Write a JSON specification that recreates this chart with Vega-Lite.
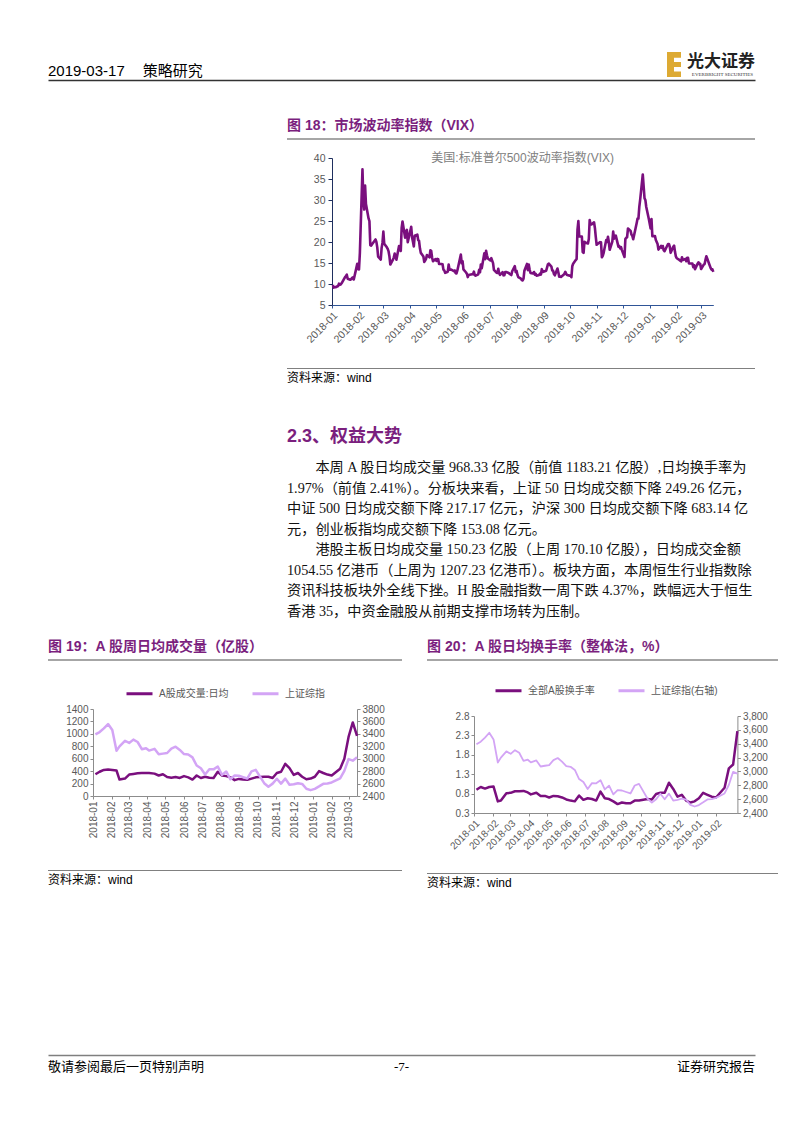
{
"$schema": "https://vega.github.io/schema/vega-lite/v6.json",
"background": "white",
"padding": {"left": 48, "top": 40, "right": 0, "bottom": 0},
"spacing": 0,
"align": "none",
"resolve": {"scale": {"color": "independent"}, "legend": {"color": "independent"}},
"config": {
  "view": {"stroke": null},
  "font": "Liberation Sans, Noto Sans CJK SC",
  "title": {"anchor": "start", "frame": "group", "font": "Liberation Sans, Noto Sans CJK SC", "fontSize": 14, "fontWeight": "bold", "color": "#7B1F7E", "offset": 5},
  "axis": {"grid": false, "labelFont": "Liberation Sans, Noto Sans CJK SC", "labelColor": "#595959", "labelFontSize": 10, "domainColor": "#8C8C8C", "tickColor": "#8C8C8C", "tickSize": 3, "labelPadding": 2, "labelOverlap": false},
  "legend": {"orient": "top", "direction": "horizontal", "symbolType": "stroke", "symbolStrokeWidth": 3, "symbolSize": 676, "labelFontSize": 10, "labelColor": "#595959", "labelFont": "Liberation Sans, Noto Sans CJK SC", "columnPadding": 17, "labelOffset": 5, "padding": 0, "layout": {"top": {"anchor": "middle"}}}
},
"vconcat": [
  {
    "width": 707, "height": 40,
    "data": {"values": [
      {"side": "L", "part": "date", "t": "2019-03-17\u3000\u2009策略研究"},
      {"side": "R", "part": "logo", "t": "光大证券"},
      {"side": "R", "part": "en", "t": "EVERBRIGHT SECURITIES"},
      {"side": "R", "part": "mark", "t": "E"}
    ]},
    "encoding": {"x": {"field": "side", "type": "nominal", "scale": {"type": "point", "domain": ["L", "R"], "padding": 0}, "axis": {"orient": "bottom", "domain": true, "domainColor": "#333333", "domainWidth": 1.5, "ticks": false, "labels": false, "title": null, "minExtent": 0, "maxExtent": 0}}},
    "layer": [
      {"transform": [{"filter": "datum.part == 'date'"}], "mark": {"type": "text", "align": "left", "baseline": "alphabetic", "dy": 16, "fontSize": 15, "font": "Liberation Sans, Noto Sans CJK SC", "color": "#000000"}, "encoding": {"text": {"field": "t"}}},
      {"transform": [{"filter": "datum.part == 'logo'"}], "mark": {"type": "text", "align": "right", "baseline": "alphabetic", "dy": 7, "fontSize": 17, "fontWeight": "bold", "font": "Noto Sans CJK SC", "color": "#222222"}, "encoding": {"text": {"field": "t"}}},
      {"transform": [{"filter": "datum.part == 'en'"}], "mark": {"type": "text", "align": "right", "baseline": "alphabetic", "dy": 16, "dx": -2, "fontSize": 5, "font": "Liberation Serif", "color": "#333333"}, "encoding": {"text": {"field": "t"}}},
      {"transform": [{"filter": "datum.part == 'mark'"}], "mark": {"type": "point", "filled": true, "color": "#DDAA33", "opacity": 1, "size": 625, "xOffset": -81, "yOffset": 4.5, "shape": "M-0.56,-1H0.56V-0.55H0V-0.2H0.56V0.2H0V0.55H0.56V1H-0.56Z"}}
    ]
  },
  {"width": 1, "height": 39, "data": {"values": []}, "mark": "point"},
  {
    "spacing": 0,
    "align": "none",
    "hconcat": [
      {"width": 239, "height": 1, "data": {"values": []}, "mark": "point"},
      {
        "spacing": 0,
        "align": "none",
        "vconcat": [
          {"width": 468, "height": 2, "data": {"values": []}, "mark": "point", "view": {"fill": "#A6A6A6"}, "title": {"text": "图 18：市场波动率指数（VIX）"}},
          {"width": 1, "height": 10.75, "data": {"values": []}, "mark": "point"},
          {
            "spacing": 0,
            "align": "none",
            "hconcat": [
              {"width": 14.7, "height": 1, "data": {"values": []}, "mark": "point"},
              {
                "width": 381.3, "height": 147,
                "title": {"text": "美国:标准普尔500波动率指数(VIX)", "anchor": "middle", "fontWeight": "normal", "fontSize": 12, "color": "#808080", "offset": -11.5},
                "data": {"values": [
{"d":"2018-01-02","v":9.77},{"d":"2018-01-03","v":9.15},{"d":"2018-01-04","v":9.22},{"d":"2018-01-05","v":9.22},{"d":"2018-01-08","v":9.52},{"d":"2018-01-09","v":10.08},{"d":"2018-01-10","v":9.82},{"d":"2018-01-11","v":9.88},{"d":"2018-01-12","v":10.16},{"d":"2018-01-16","v":11.66},{"d":"2018-01-17","v":11.91},{"d":"2018-01-18","v":12.22},{"d":"2018-01-19","v":11.27},{"d":"2018-01-22","v":11.03},{"d":"2018-01-23","v":11.1},{"d":"2018-01-24","v":11.47},{"d":"2018-01-25","v":11.58},{"d":"2018-01-26","v":11.08},{"d":"2018-01-29","v":13.84},{"d":"2018-01-30","v":14.79},{"d":"2018-01-31","v":13.54},
{"d":"2018-02-01","v":13.47},{"d":"2018-02-02","v":17.31},{"d":"2018-02-05","v":37.32},{"d":"2018-02-06","v":29.98},{"d":"2018-02-07","v":27.73},{"d":"2018-02-08","v":33.46},{"d":"2018-02-09","v":29.06},{"d":"2018-02-12","v":25.61},{"d":"2018-02-13","v":24.97},{"d":"2018-02-14","v":19.26},{"d":"2018-02-15","v":19.13},{"d":"2018-02-16","v":19.46},{"d":"2018-02-20","v":20.6},{"d":"2018-02-21","v":20.02},{"d":"2018-02-22","v":18.72},{"d":"2018-02-23","v":16.49},{"d":"2018-02-26","v":15.8},{"d":"2018-02-27","v":18.59},{"d":"2018-02-28","v":19.85},
{"d":"2018-03-01","v":22.47},{"d":"2018-03-02","v":19.59},{"d":"2018-03-05","v":18.73},{"d":"2018-03-06","v":18.36},{"d":"2018-03-07","v":17.76},{"d":"2018-03-08","v":16.54},{"d":"2018-03-09","v":14.64},{"d":"2018-03-12","v":15.78},{"d":"2018-03-13","v":16.35},{"d":"2018-03-14","v":17.23},{"d":"2018-03-15","v":16.59},{"d":"2018-03-16","v":15.8},{"d":"2018-03-19","v":19.02},{"d":"2018-03-20","v":18.2},{"d":"2018-03-21","v":17.86},{"d":"2018-03-22","v":23.34},{"d":"2018-03-23","v":24.87},{"d":"2018-03-26","v":21.03},{"d":"2018-03-27","v":22.5},{"d":"2018-03-28","v":22.87},{"d":"2018-03-29","v":19.97},
{"d":"2018-04-02","v":23.62},{"d":"2018-04-03","v":21.1},{"d":"2018-04-04","v":20.06},{"d":"2018-04-05","v":18.94},{"d":"2018-04-06","v":21.49},{"d":"2018-04-09","v":21.77},{"d":"2018-04-10","v":20.47},{"d":"2018-04-11","v":20.24},{"d":"2018-04-12","v":18.49},{"d":"2018-04-13","v":17.41},{"d":"2018-04-16","v":16.56},{"d":"2018-04-17","v":15.25},{"d":"2018-04-18","v":15.6},{"d":"2018-04-19","v":15.96},{"d":"2018-04-20","v":16.88},{"d":"2018-04-23","v":16.34},{"d":"2018-04-24","v":18.02},{"d":"2018-04-25","v":17.84},{"d":"2018-04-26","v":16.24},{"d":"2018-04-27","v":15.41},{"d":"2018-04-30","v":15.93},
{"d":"2018-05-01","v":15.49},{"d":"2018-05-02","v":15.97},{"d":"2018-05-03","v":15.9},{"d":"2018-05-04","v":14.77},{"d":"2018-05-07","v":14.75},{"d":"2018-05-08","v":14.71},{"d":"2018-05-09","v":13.42},{"d":"2018-05-10","v":13.23},{"d":"2018-05-11","v":12.65},{"d":"2018-05-14","v":12.93},{"d":"2018-05-15","v":14.63},{"d":"2018-05-16","v":13.42},{"d":"2018-05-17","v":13.43},{"d":"2018-05-18","v":13.42},{"d":"2018-05-21","v":13.08},{"d":"2018-05-22","v":13.22},{"d":"2018-05-23","v":12.58},{"d":"2018-05-24","v":12.53},{"d":"2018-05-25","v":13.22},{"d":"2018-05-29","v":17.02},{"d":"2018-05-30","v":14.94},{"d":"2018-05-31","v":15.43},
{"d":"2018-06-01","v":13.46},{"d":"2018-06-04","v":12.74},{"d":"2018-06-05","v":12.4},{"d":"2018-06-06","v":11.64},{"d":"2018-06-07","v":12.13},{"d":"2018-06-08","v":12.18},{"d":"2018-06-11","v":12.35},{"d":"2018-06-12","v":12.34},{"d":"2018-06-13","v":12.94},{"d":"2018-06-14","v":12.12},{"d":"2018-06-15","v":11.98},{"d":"2018-06-18","v":12.31},{"d":"2018-06-19","v":13.35},{"d":"2018-06-20","v":12.79},{"d":"2018-06-21","v":14.64},{"d":"2018-06-22","v":13.77},{"d":"2018-06-25","v":17.33},{"d":"2018-06-26","v":15.92},{"d":"2018-06-27","v":17.91},{"d":"2018-06-28","v":16.85},{"d":"2018-06-29","v":16.09},
{"d":"2018-07-02","v":15.6},{"d":"2018-07-03","v":16.14},{"d":"2018-07-05","v":14.97},{"d":"2018-07-06","v":13.37},{"d":"2018-07-09","v":12.69},{"d":"2018-07-10","v":12.64},{"d":"2018-07-11","v":13.63},{"d":"2018-07-12","v":12.58},{"d":"2018-07-13","v":12.18},{"d":"2018-07-16","v":12.83},{"d":"2018-07-17","v":12.06},{"d":"2018-07-18","v":12.1},{"d":"2018-07-19","v":12.87},{"d":"2018-07-20","v":12.86},{"d":"2018-07-23","v":12.62},{"d":"2018-07-24","v":12.41},{"d":"2018-07-25","v":12.29},{"d":"2018-07-26","v":12.14},{"d":"2018-07-27","v":13.03},{"d":"2018-07-30","v":14.26},{"d":"2018-07-31","v":12.83},
{"d":"2018-08-01","v":13.15},{"d":"2018-08-02","v":12.19},{"d":"2018-08-03","v":11.64},{"d":"2018-08-06","v":11.27},{"d":"2018-08-07","v":10.93},{"d":"2018-08-08","v":10.85},{"d":"2018-08-09","v":11.27},{"d":"2018-08-10","v":13.16},{"d":"2018-08-13","v":14.78},{"d":"2018-08-14","v":13.31},{"d":"2018-08-15","v":14.64},{"d":"2018-08-16","v":13.45},{"d":"2018-08-17","v":12.64},{"d":"2018-08-20","v":12.49},{"d":"2018-08-21","v":12.86},{"d":"2018-08-22","v":12.25},{"d":"2018-08-23","v":12.41},{"d":"2018-08-24","v":11.99},{"d":"2018-08-27","v":12.16},{"d":"2018-08-28","v":12.5},{"d":"2018-08-29","v":12.25},{"d":"2018-08-30","v":13.53},{"d":"2018-08-31","v":12.86},
{"d":"2018-09-04","v":13.16},{"d":"2018-09-05","v":13.91},{"d":"2018-09-06","v":14.65},{"d":"2018-09-07","v":14.88},{"d":"2018-09-10","v":14.16},{"d":"2018-09-11","v":13.22},{"d":"2018-09-12","v":13.14},{"d":"2018-09-13","v":12.37},{"d":"2018-09-14","v":12.07},{"d":"2018-09-17","v":13.68},{"d":"2018-09-18","v":12.79},{"d":"2018-09-19","v":11.75},{"d":"2018-09-20","v":11.8},{"d":"2018-09-21","v":11.68},{"d":"2018-09-24","v":12.2},{"d":"2018-09-25","v":12.42},{"d":"2018-09-26","v":12.89},{"d":"2018-09-27","v":12.41},{"d":"2018-09-28","v":12.12},
{"d":"2018-10-01","v":12.0},{"d":"2018-10-02","v":12.05},{"d":"2018-10-03","v":11.61},{"d":"2018-10-04","v":14.22},{"d":"2018-10-05","v":14.82},{"d":"2018-10-08","v":15.69},{"d":"2018-10-09","v":15.95},{"d":"2018-10-10","v":22.96},{"d":"2018-10-11","v":24.98},{"d":"2018-10-12","v":21.31},{"d":"2018-10-15","v":21.3},{"d":"2018-10-16","v":17.62},{"d":"2018-10-17","v":17.4},{"d":"2018-10-18","v":20.06},{"d":"2018-10-19","v":19.89},{"d":"2018-10-22","v":19.64},{"d":"2018-10-23","v":20.71},{"d":"2018-10-24","v":25.23},{"d":"2018-10-25","v":24.22},{"d":"2018-10-26","v":24.16},{"d":"2018-10-29","v":24.7},{"d":"2018-10-30","v":23.35},{"d":"2018-10-31","v":21.23},
{"d":"2018-11-01","v":19.34},{"d":"2018-11-02","v":19.51},{"d":"2018-11-05","v":19.96},{"d":"2018-11-06","v":19.91},{"d":"2018-11-07","v":16.36},{"d":"2018-11-08","v":16.72},{"d":"2018-11-09","v":17.36},{"d":"2018-11-12","v":20.45},{"d":"2018-11-13","v":20.02},{"d":"2018-11-14","v":21.25},{"d":"2018-11-15","v":19.98},{"d":"2018-11-16","v":18.14},{"d":"2018-11-19","v":20.1},{"d":"2018-11-20","v":22.48},{"d":"2018-11-21","v":20.8},{"d":"2018-11-23","v":21.52},{"d":"2018-11-26","v":18.9},{"d":"2018-11-27","v":19.02},{"d":"2018-11-28","v":18.49},{"d":"2018-11-29","v":18.79},{"d":"2018-11-30","v":18.07},
{"d":"2018-12-03","v":16.44},{"d":"2018-12-04","v":20.74},{"d":"2018-12-06","v":21.19},{"d":"2018-12-07","v":23.23},{"d":"2018-12-10","v":22.64},{"d":"2018-12-11","v":21.76},{"d":"2018-12-12","v":21.46},{"d":"2018-12-13","v":20.65},{"d":"2018-12-14","v":21.63},{"d":"2018-12-17","v":24.52},{"d":"2018-12-18","v":25.58},{"d":"2018-12-19","v":25.58},{"d":"2018-12-20","v":28.38},{"d":"2018-12-21","v":30.11},{"d":"2018-12-24","v":36.07},{"d":"2018-12-26","v":30.41},{"d":"2018-12-27","v":29.96},{"d":"2018-12-28","v":28.34},{"d":"2018-12-31","v":25.42},
{"d":"2019-01-02","v":23.22},{"d":"2019-01-03","v":25.45},{"d":"2019-01-04","v":21.38},{"d":"2019-01-07","v":21.4},{"d":"2019-01-08","v":20.47},{"d":"2019-01-09","v":19.98},{"d":"2019-01-10","v":19.5},{"d":"2019-01-11","v":18.19},{"d":"2019-01-14","v":19.07},{"d":"2019-01-15","v":18.6},{"d":"2019-01-16","v":19.04},{"d":"2019-01-17","v":18.06},{"d":"2019-01-18","v":17.8},{"d":"2019-01-22","v":19.52},{"d":"2019-01-23","v":19.52},{"d":"2019-01-24","v":18.89},{"d":"2019-01-25","v":17.42},{"d":"2019-01-28","v":18.87},{"d":"2019-01-29","v":19.13},{"d":"2019-01-30","v":17.66},{"d":"2019-01-31","v":16.57},
{"d":"2019-02-01","v":16.14},{"d":"2019-02-04","v":15.73},{"d":"2019-02-05","v":15.57},{"d":"2019-02-06","v":15.38},{"d":"2019-02-07","v":16.37},{"d":"2019-02-08","v":15.72},{"d":"2019-02-11","v":15.97},{"d":"2019-02-12","v":15.43},{"d":"2019-02-13","v":16.22},{"d":"2019-02-14","v":16.22},{"d":"2019-02-15","v":14.91},{"d":"2019-02-19","v":14.88},{"d":"2019-02-20","v":14.02},{"d":"2019-02-21","v":14.46},{"d":"2019-02-22","v":13.51},{"d":"2019-02-25","v":14.85},{"d":"2019-02-26","v":15.17},{"d":"2019-02-27","v":14.7},{"d":"2019-02-28","v":14.78},
{"d":"2019-03-01","v":13.57},{"d":"2019-03-04","v":14.63},{"d":"2019-03-05","v":14.74},{"d":"2019-03-06","v":15.74},{"d":"2019-03-07","v":16.59},{"d":"2019-03-08","v":16.05},{"d":"2019-03-11","v":14.33},{"d":"2019-03-12","v":13.77},{"d":"2019-03-13","v":13.41},{"d":"2019-03-14","v":13.5},{"d":"2019-03-15","v":12.88}
                ]},
                "mark": {"type": "line", "color": "#7A0F7E", "strokeWidth": 2.6, "strokeJoin": "round"},
                "encoding": {
                  "x": {"field": "d", "type": "temporal", "title": null,
                    "scale": {"domain": [{"year": 2018, "month": 1, "date": 1}, {"year": 2019, "month": 3, "date": 15}]},
                    "axis": {"values": [{"year":2018,"month":1,"date":1},{"year":2018,"month":2,"date":1},{"year":2018,"month":3,"date":1},{"year":2018,"month":4,"date":1},{"year":2018,"month":5,"date":1},{"year":2018,"month":6,"date":1},{"year":2018,"month":7,"date":1},{"year":2018,"month":8,"date":1},{"year":2018,"month":9,"date":1},{"year":2018,"month":10,"date":1},{"year":2018,"month":11,"date":1},{"year":2018,"month":12,"date":1},{"year":2019,"month":1,"date":1},{"year":2019,"month":2,"date":1},{"year":2019,"month":3,"date":1}],
                      "format": "%Y-%m", "labelAngle": -45, "labelFontSize": 10.5, "domainColor": "#2F5597", "tickColor": "#2F5597", "tickSize": 3}},
                  "y": {"field": "v", "type": "quantitative", "title": null,
                    "scale": {"domain": [5, 40], "nice": false, "zero": false},
                    "axis": {"values": [5, 10, 15, 20, 25, 30, 35, 40], "labelFontSize": 10.5, "domainColor": "#1F2F5F", "tickColor": "#1F2F5F", "tickSize": 4, "labelPadding": 3, "minExtent": 30, "maxExtent": 30}}
                }
              }
            ]
          },
          {"width": 1, "height": 23, "data": {"values": []}, "mark": "point"},
          {"width": 468, "height": 1, "data": {"values": []}, "mark": "point", "view": {"fill": "#808080"}, "title": {"text": "资料来源：wind", "orient": "bottom", "fontWeight": "normal", "color": "#000000", "fontSize": 12, "offset": 3.5}},
          {"width": 1, "height": 44, "data": {"values": []}, "mark": "point"},
          {"width": 468, "height": 1, "data": {"values": []}, "mark": "point",
           "title": {"text": "2.3、权益大势", "fontSize": 18, "offset": 0,
             "subtitle": [
               "\u200B\u3000\u3000本周 A 股日均成交量 968.33 亿股（前值 1183.21 亿股）,日均换手率为",
               "1.97%（前值 2.41%）。分板块来看，上证 50 日均成交额下降 249.26 亿元，",
               "中证 500 日均成交额下降 217.17 亿元，沪深 300 日均成交额下降 683.14 亿",
               "元，创业板指均成交额下降 153.08 亿元。",
               "\u200B\u3000\u3000港股主板日均成交量 150.23 亿股（上周 170.10 亿股），日均成交金额",
               "1054.55 亿港币（上周为 1207.23 亿港币）。板块方面，本周恒生行业指数除",
               "资讯科技板块外全线下挫。H 股金融指数一周下跌 4.37%，跌幅远大于恒生",
               "香港 35，中资金融股从前期支撑市场转为压制。"
             ],
             "subtitleFont": "Liberation Serif, Noto Sans CJK SC", "subtitleFontSize": 14.2, "subtitleColor": "#111111", "subtitleLineHeight": 20.5, "subtitlePadding": 15}}
        ]
      }
    ]
  },
  {"width": 1, "height": 20, "data": {"values": []}, "mark": "point"},
  {
    "spacing": 25,
    "align": "none",
    "resolve": {"scale": {"color": "independent"}, "legend": {"color": "independent"}},
    "hconcat": [
      {
        "spacing": 0,
        "align": "none",
        "resolve": {"scale": {"color": "independent"}, "legend": {"color": "independent"}},
        "vconcat": [
          {"width": 354, "height": 2, "data": {"values": []}, "mark": "point", "view": {"fill": "#A6A6A6"}, "title": {"text": "图 19：A 股周日均成交量（亿股）"}},
          {"width": 1, "height": 18, "data": {"values": []}, "mark": "point"},
          {
            "spacing": 0,
            "align": "none",
            "resolve": {"scale": {"color": "independent"}, "legend": {"color": "independent"}},
            "hconcat": [
              {"width": 10, "height": 1, "data": {"values": []}, "mark": "point"},
              {
                "width": 264, "height": 87,
                "data": {"values": [
{"d":"2018-01-05","vol":350,"sh":3391},{"d":"2018-01-12","vol":390,"sh":3429},{"d":"2018-01-19","vol":420,"sh":3488},{"d":"2018-01-26","vol":425,"sh":3558},{"d":"2018-02-02","vol":420,"sh":3462},{"d":"2018-02-09","vol":410,"sh":3129},{"d":"2018-02-14","vol":265,"sh":3199},{"d":"2018-02-23","vol":280,"sh":3289},{"d":"2018-03-02","vol":345,"sh":3254},{"d":"2018-03-09","vol":355,"sh":3307},{"d":"2018-03-16","vol":365,"sh":3269},{"d":"2018-03-23","vol":370,"sh":3153},{"d":"2018-03-30","vol":370,"sh":3169},{"d":"2018-04-04","vol":370,"sh":3131},{"d":"2018-04-13","vol":360,"sh":3159},{"d":"2018-04-20","vol":330,"sh":3071},{"d":"2018-04-27","vol":350,"sh":3082},{"d":"2018-05-04","vol":305,"sh":3092},{"d":"2018-05-11","vol":295,"sh":3163},{"d":"2018-05-18","vol":305,"sh":3193},{"d":"2018-05-25","vol":290,"sh":3141},{"d":"2018-06-01","vol":320,"sh":3075},{"d":"2018-06-08","vol":300,"sh":3067},{"d":"2018-06-15","vol":265,"sh":3022},{"d":"2018-06-22","vol":330,"sh":2890},{"d":"2018-06-29","vol":290,"sh":2847},{"d":"2018-07-06","vol":310,"sh":2747},{"d":"2018-07-13","vol":295,"sh":2831},{"d":"2018-07-20","vol":290,"sh":2829},{"d":"2018-07-27","vol":390,"sh":2874},{"d":"2018-08-03","vol":330,"sh":2740},{"d":"2018-08-10","vol":320,"sh":2795},{"d":"2018-08-17","vol":300,"sh":2669},{"d":"2018-08-24","vol":255,"sh":2730},{"d":"2018-08-31","vol":275,"sh":2725},{"d":"2018-09-07","vol":265,"sh":2703},{"d":"2018-09-14","vol":260,"sh":2682},{"d":"2018-09-21","vol":280,"sh":2797},{"d":"2018-09-28","vol":300,"sh":2821},{"d":"2018-10-12","vol":310,"sh":2606},{"d":"2018-10-19","vol":310,"sh":2550},{"d":"2018-10-26","vol":290,"sh":2599},{"d":"2018-11-02","vol":370,"sh":2677},{"d":"2018-11-09","vol":390,"sh":2599},{"d":"2018-11-16","vol":518,"sh":2680},{"d":"2018-11-23","vol":450,"sh":2580},{"d":"2018-11-30","vol":340,"sh":2588},{"d":"2018-12-07","vol":370,"sh":2606},{"d":"2018-12-14","vol":310,"sh":2594},{"d":"2018-12-21","vol":270,"sh":2517},{"d":"2018-12-28","vol":280,"sh":2494},{"d":"2019-01-04","vol":310,"sh":2515},{"d":"2019-01-11","vol":400,"sh":2554},{"d":"2019-01-18","vol":370,"sh":2596},{"d":"2019-01-25","vol":345,"sh":2601},{"d":"2019-02-01","vol":330,"sh":2618},{"d":"2019-02-15","vol":440,"sh":2682},{"d":"2019-02-22","vol":600,"sh":2804},{"d":"2019-03-01","vol":950,"sh":2994},{"d":"2019-03-08","vol":1183.21,"sh":2969},{"d":"2019-03-15","vol":968.33,"sh":3022}
                ]},
                "encoding": {"x": {"field": "d", "type": "temporal", "title": null,
                  "scale": {"domain": [{"year": 2018, "month": 1, "date": 1}, {"year": 2019, "month": 3, "date": 15}]},
                  "axis": {"values": [{"year":2018,"month":1,"date":1},{"year":2018,"month":2,"date":1},{"year":2018,"month":3,"date":1},{"year":2018,"month":4,"date":1},{"year":2018,"month":5,"date":1},{"year":2018,"month":6,"date":1},{"year":2018,"month":7,"date":1},{"year":2018,"month":8,"date":1},{"year":2018,"month":9,"date":1},{"year":2018,"month":10,"date":1},{"year":2018,"month":11,"date":1},{"year":2018,"month":12,"date":1},{"year":2019,"month":1,"date":1},{"year":2019,"month":2,"date":1},{"year":2019,"month":3,"date":1}],
                    "format": "%Y-%m", "labelAngle": 270}}},
                "layer": [
                  {"mark": {"type": "line", "strokeWidth": 2.5, "strokeJoin": "round"},
                   "encoding": {
                     "y": {"field": "vol", "type": "quantitative", "title": null, "scale": {"domain": [0, 1400], "nice": false}, "axis": {"orient": "left", "values": [0, 200, 400, 600, 800, 1000, 1200, 1400], "format": "d", "minExtent": 35, "maxExtent": 35}},
                     "color": {"datum": "A股成交量:日均", "type": "nominal", "scale": {"domain": ["A股成交量:日均", "上证综指"], "range": ["#7A0F7E", "#D3A4F5"]}, "legend": {"title": null, "offset": 9}}}},
                  {"mark": {"type": "line", "strokeWidth": 2.5, "strokeJoin": "round"},
                   "encoding": {
                     "y": {"field": "sh", "type": "quantitative", "title": null, "scale": {"domain": [2400, 3800], "nice": false, "zero": false}, "axis": {"orient": "right", "values": [2400, 2600, 2800, 3000, 3200, 3400, 3600, 3800], "format": "d", "minExtent": 35, "maxExtent": 35}},
                     "color": {"datum": "上证综指", "type": "nominal"}}}
                ],
                "resolve": {"scale": {"y": "independent"}}
              }
            ]
          },
          {"width": 1, "height": 32, "data": {"values": []}, "mark": "point"},
          {"width": 354, "height": 1, "data": {"values": []}, "mark": "point", "view": {"fill": "#808080"}, "title": {"text": "资料来源：wind", "orient": "bottom", "fontWeight": "normal", "color": "#000000", "fontSize": 12, "offset": 3.5}}
        ]
      },
      {
        "spacing": 0,
        "align": "none",
        "resolve": {"scale": {"color": "independent"}, "legend": {"color": "independent"}},
        "vconcat": [
          {"width": 351, "height": 2, "data": {"values": []}, "mark": "point", "view": {"fill": "#A6A6A6"}, "title": {"text": "图 20：A 股日均换手率（整体法，%）"}},
          {"width": 1, "height": 15, "data": {"values": []}, "mark": "point"},
          {
            "spacing": 0,
            "align": "none",
            "resolve": {"scale": {"color": "independent"}, "legend": {"color": "independent"}},
            "hconcat": [
              {"width": 6.3, "height": 1, "data": {"values": []}, "mark": "point"},
              {
                "width": 263.4, "height": 97,
                "data": {"values": [
{"d":"2018-01-05","tr":0.90,"sh":3391},{"d":"2018-01-12","tr":0.97,"sh":3429},{"d":"2018-01-19","tr":0.93,"sh":3488},{"d":"2018-01-26","tr":0.97,"sh":3558},{"d":"2018-02-02","tr":0.98,"sh":3462},{"d":"2018-02-09","tr":0.60,"sh":3129},{"d":"2018-02-14","tr":0.62,"sh":3199},{"d":"2018-02-23","tr":0.81,"sh":3289},{"d":"2018-03-02","tr":0.82,"sh":3254},{"d":"2018-03-09","tr":0.86,"sh":3307},{"d":"2018-03-16","tr":0.86,"sh":3269},{"d":"2018-03-23","tr":0.87,"sh":3153},{"d":"2018-03-30","tr":0.83,"sh":3169},{"d":"2018-04-04","tr":0.78,"sh":3131},{"d":"2018-04-13","tr":0.82,"sh":3159},{"d":"2018-04-20","tr":0.74,"sh":3071},{"d":"2018-04-27","tr":0.74,"sh":3082},{"d":"2018-05-04","tr":0.70,"sh":3092},{"d":"2018-05-11","tr":0.74,"sh":3163},{"d":"2018-05-18","tr":0.73,"sh":3193},{"d":"2018-05-25","tr":0.70,"sh":3141},{"d":"2018-06-01","tr":0.65,"sh":3075},{"d":"2018-06-08","tr":0.62,"sh":3067},{"d":"2018-06-15","tr":0.60,"sh":3022},{"d":"2018-06-22","tr":0.75,"sh":2890},{"d":"2018-06-29","tr":0.64,"sh":2847},{"d":"2018-07-06","tr":0.68,"sh":2747},{"d":"2018-07-13","tr":0.66,"sh":2831},{"d":"2018-07-20","tr":0.62,"sh":2829},{"d":"2018-07-27","tr":0.85,"sh":2874},{"d":"2018-08-03","tr":0.68,"sh":2740},{"d":"2018-08-10","tr":0.66,"sh":2795},{"d":"2018-08-17","tr":0.60,"sh":2669},{"d":"2018-08-24","tr":0.53,"sh":2730},{"d":"2018-08-31","tr":0.57,"sh":2725},{"d":"2018-09-07","tr":0.55,"sh":2703},{"d":"2018-09-14","tr":0.55,"sh":2682},{"d":"2018-09-21","tr":0.62,"sh":2797},{"d":"2018-09-28","tr":0.62,"sh":2821},{"d":"2018-10-12","tr":0.66,"sh":2606},{"d":"2018-10-19","tr":0.65,"sh":2550},{"d":"2018-10-26","tr":0.79,"sh":2599},{"d":"2018-11-02","tr":0.82,"sh":2677},{"d":"2018-11-09","tr":0.82,"sh":2599},{"d":"2018-11-16","tr":1.08,"sh":2680},{"d":"2018-11-23","tr":0.92,"sh":2580},{"d":"2018-11-30","tr":0.72,"sh":2588},{"d":"2018-12-07","tr":0.77,"sh":2606},{"d":"2018-12-14","tr":0.62,"sh":2594},{"d":"2018-12-21","tr":0.57,"sh":2517},{"d":"2018-12-28","tr":0.60,"sh":2494},{"d":"2019-01-04","tr":0.68,"sh":2515},{"d":"2019-01-11","tr":0.82,"sh":2554},{"d":"2019-01-18","tr":0.77,"sh":2596},{"d":"2019-01-25","tr":0.72,"sh":2601},{"d":"2019-02-01","tr":0.70,"sh":2618},{"d":"2019-02-15","tr":0.95,"sh":2682},{"d":"2019-02-22","tr":1.45,"sh":2804},{"d":"2019-03-01","tr":1.55,"sh":2994},{"d":"2019-03-08","tr":2.41,"sh":2969}
                ]},
                "encoding": {"x": {"field": "d", "type": "temporal", "title": null,
                  "scale": {"domain": [{"year": 2018, "month": 1, "date": 1}, {"year": 2019, "month": 3, "date": 8}]},
                  "axis": {"values": [{"year":2018,"month":1,"date":1},{"year":2018,"month":2,"date":1},{"year":2018,"month":3,"date":1},{"year":2018,"month":4,"date":1},{"year":2018,"month":5,"date":1},{"year":2018,"month":6,"date":1},{"year":2018,"month":7,"date":1},{"year":2018,"month":8,"date":1},{"year":2018,"month":9,"date":1},{"year":2018,"month":10,"date":1},{"year":2018,"month":11,"date":1},{"year":2018,"month":12,"date":1},{"year":2019,"month":1,"date":1},{"year":2019,"month":2,"date":1}],
                    "format": "%Y-%m", "labelAngle": -45}}},
                "layer": [
                  {"mark": {"type": "line", "strokeWidth": 2.5, "strokeJoin": "round"},
                   "encoding": {
                     "y": {"field": "tr", "type": "quantitative", "title": null, "scale": {"domain": [0.3, 2.8], "nice": false, "zero": false}, "axis": {"orient": "left", "values": [0.3, 0.8, 1.3, 1.8, 2.3, 2.8], "format": ".1f", "minExtent": 40, "maxExtent": 40}},
                     "color": {"datum": "全部A股换手率", "type": "nominal", "scale": {"domain": ["全部A股换手率", "上证综指(右轴)"], "range": ["#7A0F7E", "#D3A4F5"]}, "legend": {"title": null, "offset": 19}}}},
                  {"mark": {"type": "line", "strokeWidth": 1.8, "strokeJoin": "round"},
                   "encoding": {
                     "y": {"field": "sh", "type": "quantitative", "title": null, "scale": {"domain": [2400, 3800], "nice": false, "zero": false}, "axis": {"orient": "right", "values": [2400, 2600, 2800, 3000, 3200, 3400, 3600, 3800], "format": ",d", "minExtent": 35, "maxExtent": 35}},
                     "color": {"datum": "上证综指(右轴)", "type": "nominal"}}}
                ],
                "resolve": {"scale": {"y": "independent"}}
              }
            ]
          },
          {"width": 1, "height": 21, "data": {"values": []}, "mark": "point"},
          {"width": 351, "height": 1, "data": {"values": []}, "mark": "point", "view": {"fill": "#808080"}, "title": {"text": "资料来源：wind", "orient": "bottom", "fontWeight": "normal", "color": "#000000", "fontSize": 12, "offset": 3.5}}
        ]
      }
    ]
  },
  {"width": 1, "height": 165.75, "data": {"values": []}, "mark": "point"},
  {
    "width": 707, "height": 24,
    "data": {"values": [
      {"part": "L", "t": "敬请参阅最后一页特别声明"},
      {"part": "C", "t": "-7-"},
      {"part": "R", "t": "证券研究报告"}
    ]},
    "encoding": {"x": {"field": "part", "type": "nominal", "scale": {"type": "point", "domain": ["L", "C", "R"], "padding": 0}, "axis": {"orient": "top", "domain": true, "domainColor": "#7F7F7F", "domainWidth": 1.5, "ticks": false, "labels": false, "title": null, "minExtent": 0, "maxExtent": 0}}, "text": {"field": "t"}},
    "layer": [
      {"transform": [{"filter": "datum.part == 'L'"}], "mark": {"type": "text", "align": "left", "baseline": "middle", "fontSize": 13, "font": "Liberation Serif, Noto Sans CJK SC", "color": "#000000"}},
      {"transform": [{"filter": "datum.part == 'C'"}], "mark": {"type": "text", "align": "center", "baseline": "middle", "fontSize": 13, "font": "Liberation Serif, Noto Sans CJK SC", "color": "#000000"}},
      {"transform": [{"filter": "datum.part == 'R'"}], "mark": {"type": "text", "align": "right", "baseline": "middle", "fontSize": 13, "font": "Liberation Serif, Noto Sans CJK SC", "color": "#000000"}}
    ]
  }
]
}
